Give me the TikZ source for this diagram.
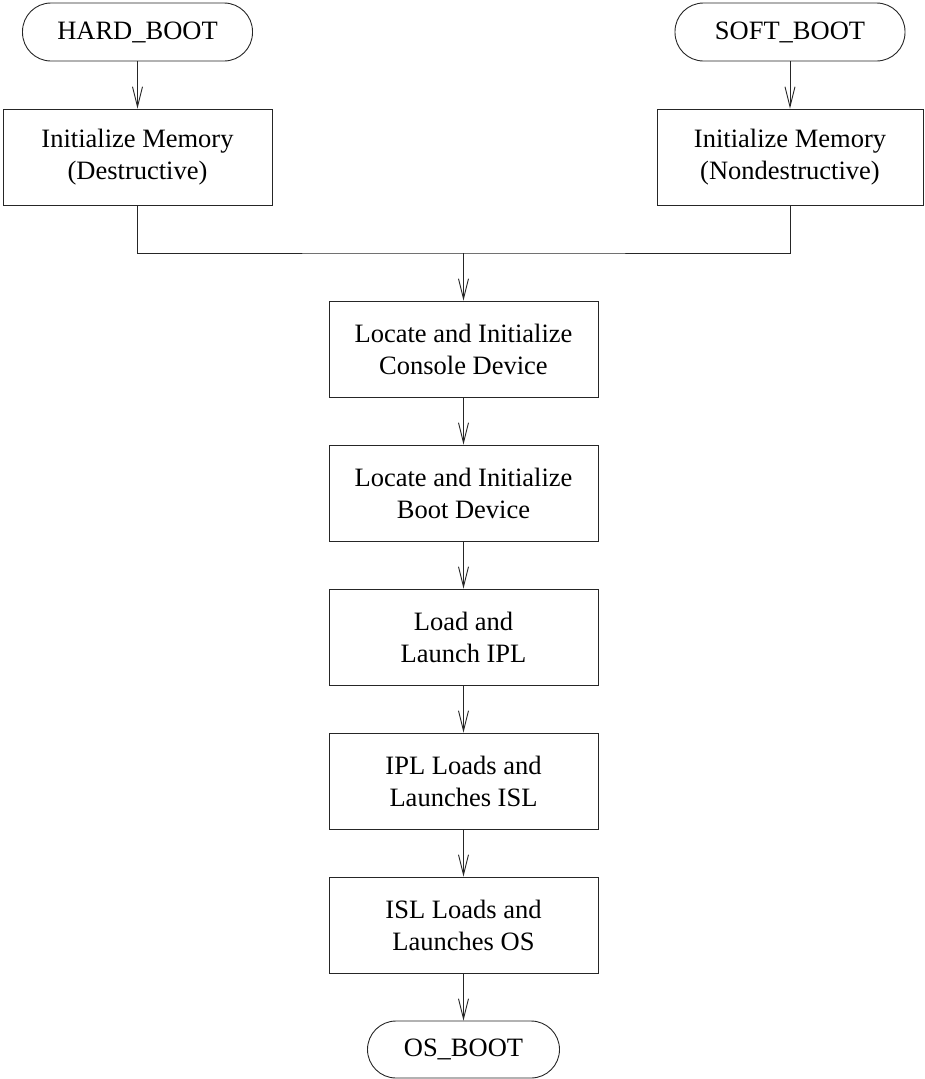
\documentclass[tikz,border=0pt]{standalone}
\usepackage{fontspec}
\setmainfont{Liberation Serif}
\usetikzlibrary{arrows.meta}
\begin{document}
\begin{tikzpicture}[x=1pt,y=-1pt,
  line width=0.9pt,
  every node/.style={font=\fontsize{26.5}{32}\selectfont, align=center, text=black},
  box/.style={draw=black!85, rectangle, minimum width=269pt, minimum height=96pt, inner sep=0pt},
  term/.style={draw=black!85, rectangle, rounded corners=28.5pt, minimum height=58pt, inner sep=0pt},
  arr/.style={draw=black!85, -{Straight Barb[length=20pt,width=10pt,line width=0.9pt]}},
  ln/.style={draw=black!85}]
\useasboundingbox (0,0) rectangle (924,1079);
\node[term, minimum width=230pt] (hard) at (137.5,32) {HARD\_BOOT};
\node[term, minimum width=230pt] (soft) at (790,32) {SOFT\_BOOT};
\node[box] (mem1) at (137.5,157) {Initialize Memory\\(Destructive)};
\node[box, minimum width=266pt] (mem2) at (790,157) {Initialize Memory\\(Nondestructive)};
\node[box] (console) at (463.5,349) {Locate and Initialize\\Console Device};
\node[box] (bootdev) at (463.5,493) {Locate and Initialize\\Boot Device};
\node[box] (ipl) at (463.5,637) {Load and\\Launch IPL};
\node[box] (isl) at (463.5,781) {IPL Loads and\\Launches ISL};
\node[box] (os) at (463.5,925) {ISL Loads and\\Launches OS};
\node[term, minimum width=192pt, minimum height=57pt] (osboot) at (463.5,1049.5) {OS\_BOOT};
\coordinate (j) at (463.5,253);
\draw[arr] (hard) -- (mem1);
\draw[arr] (soft) -- (mem2);
\draw[ln] (mem1.south) |- (j) -| (mem2.south);
\draw[arr] (j) -- (console);
\draw[arr] (console) -- (bootdev);
\draw[arr] (bootdev) -- (ipl);
\draw[arr] (ipl) -- (isl);
\draw[arr] (isl) -- (os);
\draw[arr] (os) -- (osboot);
\end{tikzpicture}
\end{document}
